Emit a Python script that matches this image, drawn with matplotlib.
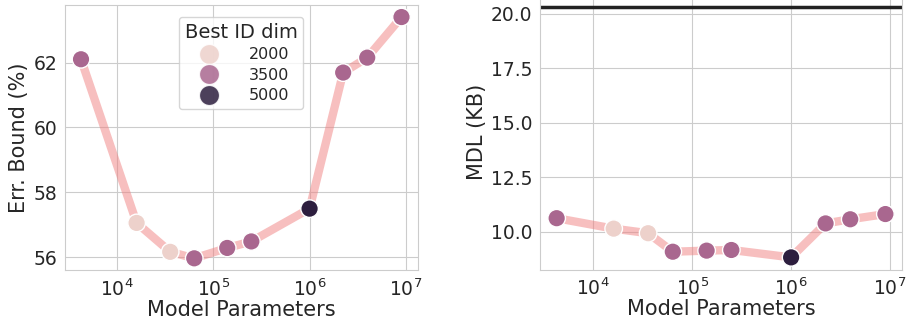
import numpy as np
import matplotlib
matplotlib.use('Agg')
import matplotlib.pyplot as plt
import seaborn as sns

# Data
params = [4270, 16100, 35900, 63700, 140000, 249000, 1.0e6, 2.23e6, 3.96e6, 8.97e6]
err_bound = [62.10, 57.06, 56.17, 55.97, 56.29, 56.49, 57.50, 61.69, 62.15, 63.40]
mdl_kb = [10.62, 10.14, 9.93, 9.08, 9.13, 9.16, 8.82, 10.38, 10.57, 10.81]
best_id_dim = [3500, 2000, 2000, 3500, 3500, 3500, 5000, 3500, 3500, 3500]
baseline_kb = 20.31

sns.set_style('whitegrid')
plt.rcParams['font.family'] = ['DejaVu Sans']

fig = plt.figure(figsize=(9.09, 3.26), dpi=100)
ax1 = fig.add_axes([0.0715, 0.1706, 0.3878, 0.8141])
ax2 = fig.add_axes([0.5943, 0.1721, 0.3978, 0.8442])

cmap = sns.cubehelix_palette(as_cmap=True)

def draw(ax, y, legend):
    ax.plot(params, y, color='lightcoral', alpha=0.5, lw=6, zorder=2,
            solid_capstyle='round')
    sns.scatterplot(x=params, y=y, hue=best_id_dim, palette=cmap, s=160,
                    edgecolor='white', linewidth=1, zorder=3,
                    legend='full' if legend else False, ax=ax)
    ax.set_xscale('log')
    ax.set_xlabel('Model Parameters', fontsize=15, labelpad=0)
    ax.tick_params(labelsize=13.5, pad=2)

draw(ax1, err_bound, True)
ax1.set_ylabel('Err. Bound (%)', fontsize=15, labelpad=3)
ax1.set_yticks([56, 58, 60, 62])
leg = ax1.legend(title='Best ID dim', loc='upper center', bbox_to_anchor=(0.5, 0.985),
                 fontsize=11.5, title_fontsize=14, markerscale=1.15,
                 handletextpad=1.5, borderpad=0.35, labelspacing=0.35)
for h in leg.legend_handles:
    h.set_alpha(0.85)

draw(ax2, mdl_kb, False)
ax2.axhline(baseline_kb, color='#222222', lw=2.5)
ax2.set_ylabel('MDL (KB)', fontsize=15, labelpad=3)
ax2.set_yticks([10.0, 12.5, 15.0, 17.5, 20.0])

plt.savefig('out.png', dpi=100)
